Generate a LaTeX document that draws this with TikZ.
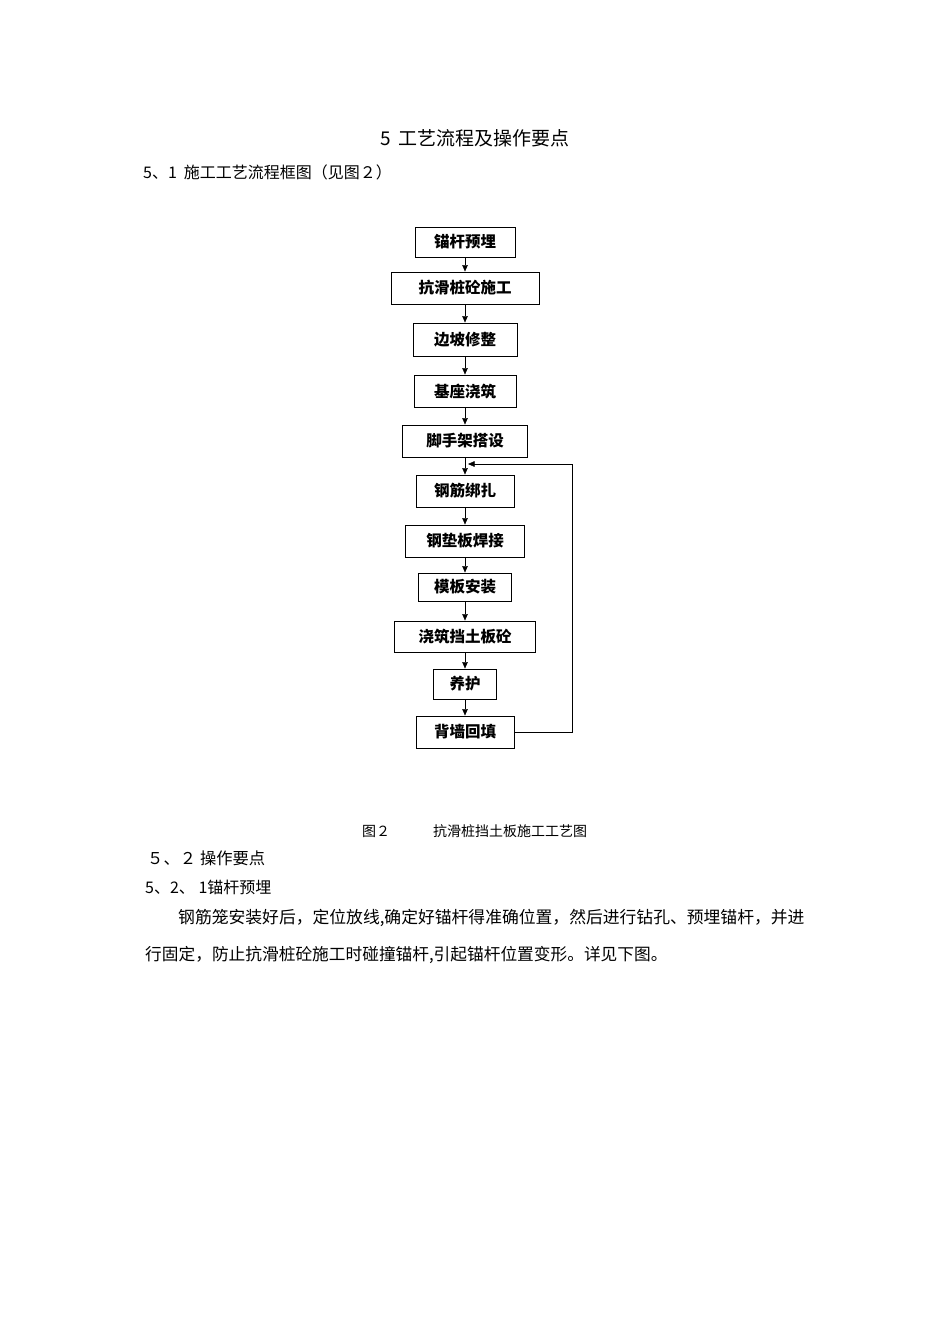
\documentclass[tikz,border=0pt]{standalone}
\usepackage{fontspec}
\newfontfamily\cjk{Noto Sans CJK SC}
\usetikzlibrary{calc,positioning,arrows.meta}

\tikzset{
  stepbox/.style={draw,line width=0.9pt,inner sep=0pt,minimum height=32pt,font=\cjk\bfseries\fontsize{15.5}{18}\selectfont},
  txt/.style={anchor=west,inner sep=0pt},
}

\begin{document}
\begin{tikzpicture}[x=1pt,y=-1pt,node distance=50pt,>={Triangle[length=6.5pt,width=5.5pt]}]
  \useasboundingbox (0,0) rectangle (950,1344);
  \fill[white] (0,0) rectangle (950,1344);

  \node[txt,font=\cjk\fontsize{19}{22}\selectfont] (title) at (380,138) {5\hspace{8pt}工艺流程及操作要点};
  \node[txt,font=\cjk\fontsize{16}{19}\selectfont] (h51) at (143,172) {5、1\hspace{7pt}施工工艺流程框图（见图２）};

  %%%%

  \node[stepbox,minimum width=100pt,minimum height=30pt] (anchor) at (465,242) {锚杆预埋};
  \node[stepbox,minimum width=148pt,below of=anchor,node distance=46pt] (pile) {抗滑桩砼施工};
  \node[stepbox,minimum width=104pt,minimum height=33pt,below of=pile,node distance=51.5pt] (slope) {边坡修整};
  \node[stepbox,minimum width=102pt,below of=slope,node distance=51.5pt] (base) {基座浇筑};
  \node[stepbox,minimum width=125pt,below of=base] (scaffold) {脚手架搭设};
  \node[stepbox,minimum width=98pt,below of=scaffold] (rebar) {钢筋绑扎};
  \node[stepbox,minimum width=119pt,below of=rebar] (plate) {钢垫板焊接};
  \node[stepbox,minimum width=93pt,minimum height=28pt,below of=plate,node distance=46pt] (formwork) {模板安装};
  \node[stepbox,minimum width=141pt,minimum height=31pt,below of=formwork,node distance=49.5pt] (pour) {浇筑挡土板砼};
  \node[stepbox,minimum width=63pt,minimum height=30pt,below of=pour,node distance=47.5pt] (cure) {养护};
  \node[stepbox,minimum width=98pt,below of=cure,node distance=48pt] (backfill) {背墙回填};

  \draw[->] (anchor) -- (pile);
  \draw[->] (pile) -- (slope);
  \draw[->] (slope) -- (base);
  \draw[->] (base) -- (scaffold);
  \draw[->] (scaffold) -- (rebar);
  \draw[->] (rebar) -- (plate);
  \draw[->] (plate) -- (formwork);
  \draw[->] (formwork) -- (pour);
  \draw[->] (pour) -- (cure);
  \draw[->] (cure) -- (backfill);

  %%%%

  \coordinate (loopin) at ($(scaffold.south)!0.5!(rebar.north)+(3,-2)$);
  \draw[->] (backfill.east) -- ++(58,0) |- (loopin);

  %%%%

  \node[txt,font=\cjk\fontsize{14}{17}\selectfont] (cap) at (362,831) {图２};
  \node[txt,font=\cjk\fontsize{14}{17}\selectfont] (capname) at (433,831) {抗滑桩挡土板施工工艺图};
  \node[txt,font=\cjk\fontsize{16.3}{19}\selectfont] (h52) at (147,858) {５、２\hspace{4pt}操作要点};
  \node[txt,font=\cjk\fontsize{16}{19}\selectfont] (h521) at (145,887) {5、2、 1锚杆预埋};
  \node[txt,font=\cjk\fontsize{16.8}{20}\selectfont] (para1) at (178,918) {钢筋笼安装好后，定位放线,确定好锚杆得准确位置，然后进行钻孔、预埋锚杆，并进};
  \node[txt,font=\cjk\fontsize{16.7}{20}\selectfont] (para2) at (145,955) {行固定，防止抗滑桩砼施工时碰撞锚杆,引起锚杆位置变形。详见下图。};
\end{tikzpicture}
\end{document}
